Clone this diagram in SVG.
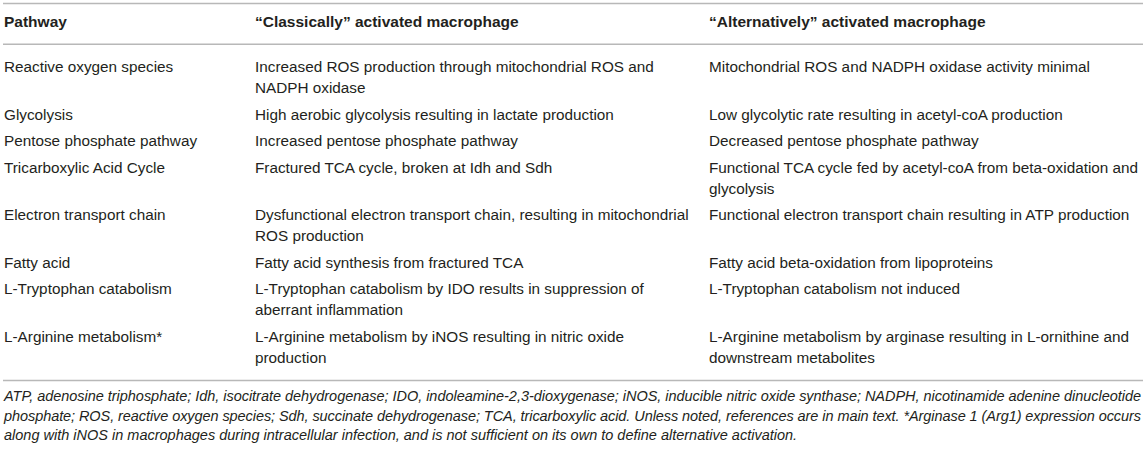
<svg xmlns="http://www.w3.org/2000/svg" width="1146" height="449" viewBox="0 0 1146 449">
<style>
text{font-family:"Liberation Sans",Arial,sans-serif;fill:#231f20}
.h{font-size:15.5px;font-weight:bold}
.b{font-size:15.3px}
.f{font-size:14.5px;font-style:italic}
.rule{stroke:#b8b8b8;stroke-width:1.6}
</style>
<rect width="1146" height="449" fill="#ffffff"/>
<g id="rules">
<line class="rule" x1="3" y1="3.5" x2="1143" y2="3.5"/>
<line class="rule" x1="3" y1="44.3" x2="1143" y2="44.3"/>
<line class="rule" x1="3" y1="380.5" x2="1143" y2="380.5"/>
</g>
<g id="header">
<text class="h" x="4" y="27">Pathway</text>
<text class="h" x="255" y="27">“Classically” activated macrophage</text>
<text class="h" x="709" y="27">“Alternatively” activated macrophage</text>
</g>
<g id="row-ros">
<text class="b" x="4" y="72">Reactive oxygen species</text>
<text class="b" x="255" y="72">Increased ROS production through mitochondrial ROS and</text>
<text class="b" x="255" y="93">NADPH oxidase</text>
<text class="b" x="709" y="72">Mitochondrial ROS and NADPH oxidase activity minimal</text>
</g>
<g id="row-glycolysis">
<text class="b" x="4" y="119.5">Glycolysis</text>
<text class="b" x="255" y="119.5">High aerobic glycolysis resulting in lactate production</text>
<text class="b" x="709" y="119.5">Low glycolytic rate resulting in acetyl-coA production</text>
</g>
<g id="row-pentose">
<text class="b" x="4" y="146">Pentose phosphate pathway</text>
<text class="b" x="255" y="146">Increased pentose phosphate pathway</text>
<text class="b" x="709" y="146">Decreased pentose phosphate pathway</text>
</g>
<g id="row-tca">
<text class="b" x="4" y="172.5">Tricarboxylic Acid Cycle</text>
<text class="b" x="255" y="172.5">Fractured TCA cycle, broken at Idh and Sdh</text>
<text class="b" x="709" y="172.5">Functional TCA cycle fed by acetyl-coA from beta-oxidation and</text>
<text class="b" x="709" y="193.5">glycolysis</text>
</g>
<g id="row-etc">
<text class="b" x="4" y="220">Electron transport chain</text>
<text class="b" x="255" y="220">Dysfunctional electron transport chain, resulting in mitochondrial</text>
<text class="b" x="255" y="241">ROS production</text>
<text class="b" x="709" y="220">Functional electron transport chain resulting in ATP production</text>
</g>
<g id="row-fatty">
<text class="b" x="4" y="267.5">Fatty acid</text>
<text class="b" x="255" y="267.5">Fatty acid synthesis from fractured TCA</text>
<text class="b" x="709" y="267.5">Fatty acid beta-oxidation from lipoproteins</text>
</g>
<g id="row-tryptophan">
<text class="b" x="4" y="294">L-Tryptophan catabolism</text>
<text class="b" x="255" y="294">L-Tryptophan catabolism by IDO results in suppression of</text>
<text class="b" x="255" y="315">aberrant inflammation</text>
<text class="b" x="709" y="294">L-Tryptophan catabolism not induced</text>
</g>
<g id="row-arginine">
<text class="b" x="4" y="341.5">L-Arginine metabolism*</text>
<text class="b" x="255" y="341.5">L-Arginine metabolism by iNOS resulting in nitric oxide</text>
<text class="b" x="255" y="362.5">production</text>
<text class="b" x="709" y="341.5">L-Arginine metabolism by arginase resulting in L-ornithine and</text>
<text class="b" x="709" y="362.5">downstream metabolites</text>
</g>
<g id="footnote">
<text class="f" x="4" y="401" textLength="1137" lengthAdjust="spacing">ATP, adenosine triphosphate; Idh, isocitrate dehydrogenase; IDO, indoleamine-2,3-dioxygenase; iNOS, inducible nitric oxide synthase; NADPH, nicotinamide adenine dinucleotide</text>
<text class="f" x="4" y="420.5" textLength="1137" lengthAdjust="spacing">phosphate; ROS, reactive oxygen species; Sdh, succinate dehydrogenase; TCA, tricarboxylic acid. Unless noted, references are in main text. *Arginase 1 (Arg1) expression occurs</text>
<text class="f" x="4" y="440">along with iNOS in macrophages during intracellular infection, and is not sufficient on its own to define alternative activation.</text>
</g>
</svg>
